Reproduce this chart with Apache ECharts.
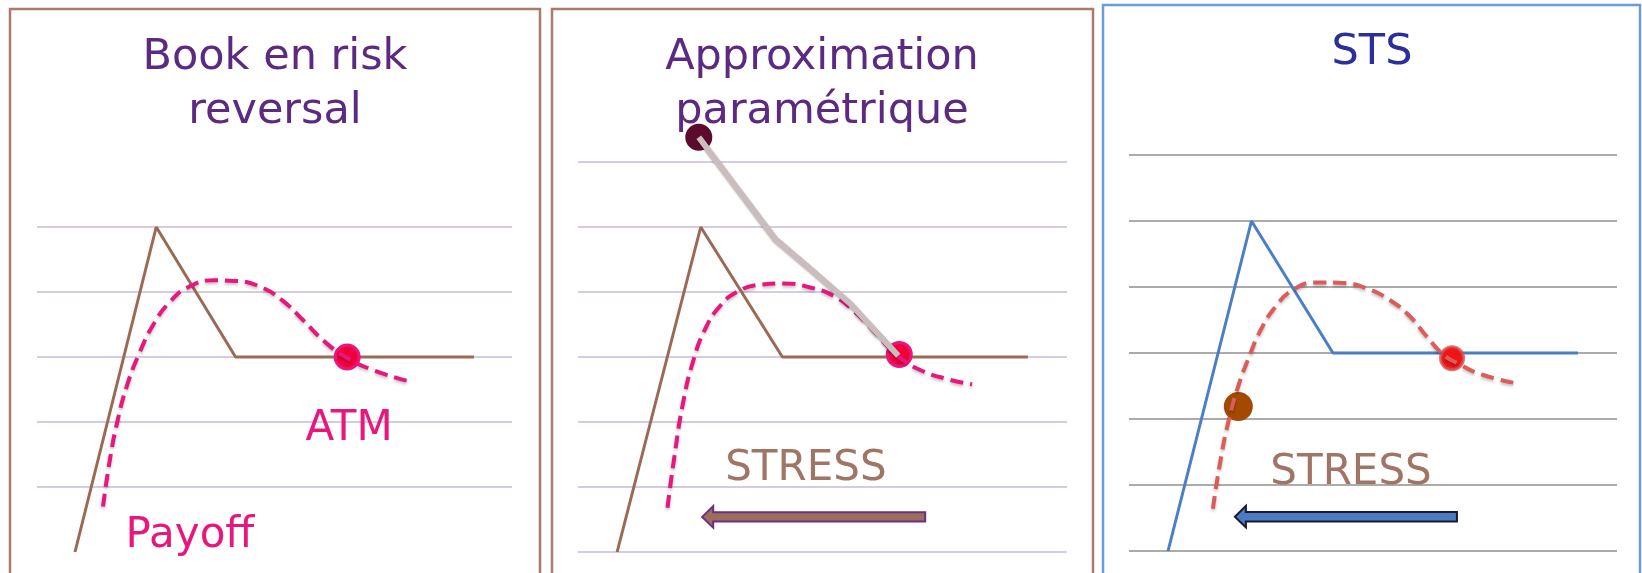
<!DOCTYPE html>
<html>
<head>
<meta charset="UTF-8">
<title>Book en risk reversal - STS</title>
<script src="https://cdn.jsdelivr.net/npm/echarts@6/dist/echarts.min.js"></script>
</head>
<body style="margin:0;background:#fff">
<div id="container" style="width:1642px;height:573px"></div>
<script>
// panel titles
var titles = ['Book en risk\nreversal', 'Approximation\nparamétrique', 'STS'];

// payoff of the risk reversal book (same shape in the three panels)
var payoff = [[8, 0], [25.1, 5], [41.8, 3], [92, 3]];

// dashed curves (value of the book), one per panel
var curve1 = [[13.9, 0.7], [15.3, 1.4], [16.9, 2.0], [18.9, 2.55], [21.5, 3.05], [24.5, 3.5], [28, 3.85],
    [32, 4.08], [37, 4.18], [42, 4.17], [47, 4.08], [51.5, 3.88], [56, 3.57], [60.5, 3.24],
    [65, 3.0], [70, 2.82], [78.1, 2.63]];
var curve2 = [[18.3, 0.68], [19.7, 1.46], [21.5, 2.3], [23.6, 2.95], [26, 3.43], [29, 3.78], [32.5, 4.0],
    [37, 4.11], [42, 4.13], [47.5, 4.07], [52.5, 3.93], [56.5, 3.7], [60.5, 3.4], [63.5, 3.15],
    [66, 2.98], [70, 2.8], [75, 2.67], [80.6, 2.58]];
var curve3 = [[17.2, 0.64], [18.6, 1.31], [20.4, 1.97], [22.4, 2.5], [24.5, 2.92], [27, 3.35], [30, 3.7],
    [33.5, 3.95], [38.5, 4.07], [44, 4.06], [49, 3.97], [53.5, 3.8], [57.5, 3.56], [61, 3.25],
    [64.5, 2.97], [67.5, 2.84], [72, 2.68], [79.5, 2.54]];

// ATM points
var atm = [[65.3, 3.0], [65.7, 3.04], [66.2, 2.92]];

// parametric approximation (panel 2)
var approx = [[24.7, 6.38], [40.4, 4.81], [47.9, 4.33], [55.7, 3.82], [65.5, 3.02]];
// stressed point (panel 3)
var stsPoint = [[22.4, 2.19]];

// stress arrows: [from x, to x, y]
var arrow2 = [[71.0, 25.4, 0.54]];
var arrow3 = [[67.2, 21.7, 0.52]];

// text annotations
var notes1 = [{name: 'ATM', value: [65.7, 1.89]}, {name: 'Payoff', value: [32.2, 0.25]}];
var stress2 = [{name: 'STRESS', value: [46.6, 1.28]}];
var stress3 = [{name: 'STRESS', value: [45.5, 1.18]}];

var font = 'DejaVu Sans, Verdana, sans-serif';
var pink = '#e8177b';
var brown = '#9a6a55';
var blue = '#4a7ec6';

var myChart = echarts.init(document.getElementById('container'), null, {renderer: 'canvas'});

function yAxis(idx, max, color, width, showMin) {
    return {
        type: 'value', gridIndex: idx, min: 0, max: max, interval: 1,
        axisLine: {show: false}, axisTick: {show: false}, axisLabel: {show: false},
        splitLine: {show: true, showMinLine: showMin, showMaxLine: true,
            lineStyle: {color: color, width: width}}
    };
}
function xAxis(idx) {
    return {type: 'value', gridIndex: idx, min: 0, max: 100, show: false};
}
function dashed(idx, data, color) {
    return {
        type: 'line', xAxisIndex: idx, yAxisIndex: idx, data: data, smooth: 0.5,
        symbol: 'none', clip: false, z: 4,
        lineStyle: {color: color, width: 4, type: [13, 7], cap: 'butt',
            shadowColor: 'rgba(0,0,0,0.25)', shadowBlur: 3, shadowOffsetY: 2}
    };
}
function solid(idx, data, color) {
    return {
        type: 'line', xAxisIndex: idx, yAxisIndex: idx, data: data, symbol: 'none',
        clip: false, z: 3, lineStyle: {color: color, width: 3}
    };
}
function dot(idx, data, fill, border, size) {
    return {
        type: 'scatter', xAxisIndex: idx, yAxisIndex: idx, data: data, symbolSize: size,
        clip: false, z: 3,
        itemStyle: {color: fill, borderColor: border, borderWidth: 3, opacity: 1}
    };
}
function text(idx, data, color, size) {
    return {
        type: 'scatter', xAxisIndex: idx, yAxisIndex: idx, data: data, symbolSize: 1,
        itemStyle: {color: 'rgba(0,0,0,0)', opacity: 1}, silent: true, z: 6,
        label: {show: true, position: 'inside', formatter: '{b}', color: color, opacity: 1,
            fontFamily: font, fontSize: size}
    };
}
function arrow(idx, data, fill, stroke) {
    return {
        type: 'custom', xAxisIndex: idx, yAxisIndex: idx, data: data, z: 5,
        renderItem: function (params, api) {
            var tail = api.coord([api.value(0), api.value(2)]);
            var tip = api.coord([api.value(1), api.value(2)]);
            var sh = 4.7, hh = 10.8, hl = 11;
            return {
                type: 'polygon',
                shape: {points: [
                    [tip[0], tip[1]], [tip[0] + hl, tip[1] - hh], [tip[0] + hl, tip[1] - sh],
                    [tail[0], tail[1] - sh], [tail[0], tail[1] + sh],
                    [tip[0] + hl, tip[1] + sh], [tip[0] + hl, tip[1] + hh]
                ]},
                style: {fill: fill, stroke: stroke, lineWidth: 2}
            };
        }
    };
}

var titleColors = ['#5c2a80', '#5c2a80', '#2b2f9a'];
var titleX = [275, 822, 1372];
var titleTop = [31, 31, 26];

var option = {
    backgroundColor: '#fff',
    animation: false,
    title: titles.map(function (t, i) {
        return {
            text: t, left: titleX[i], top: titleTop[i], textAlign: 'center', padding: 0,
            textStyle: {fontFamily: font, fontWeight: 'normal', fontSize: 43, lineHeight: 54, color: titleColors[i]}
        };
    }),
    graphic: [
        {type: 'rect', shape: {x: 10, y: 9, width: 530, height: 580}, style: {fill: 'none', stroke: '#aa7b6c', lineWidth: 2.5}},
        {type: 'rect', shape: {x: 552, y: 9, width: 541, height: 580}, style: {fill: 'none', stroke: '#aa7b6c', lineWidth: 2.5}},
        {type: 'rect', shape: {x: 1103, y: 5, width: 537, height: 580}, style: {fill: 'none', stroke: '#6b9bd9', lineWidth: 2.5}}
    ],
    grid: [
        {left: 37, top: 227, width: 475, height: 325},
        {left: 578, top: 162, width: 489, height: 390},
        {left: 1129, top: 155, width: 488, height: 396}
    ],
    xAxis: [xAxis(0), xAxis(1), xAxis(2)],
    yAxis: [
        yAxis(0, 5, '#d6cbe1', 2, false),
        yAxis(1, 6, '#d6cbe1', 2, true),
        yAxis(2, 6, '#8f8f8f', 1.5, true)
    ],
    series: [
        // panel 1
        solid(0, payoff, brown),
        dot(0, [atm[0]], '#f2003c', pink, 24),
        dashed(0, curve1, pink),
        text(0, notes1, pink, 42),
        // panel 2
        solid(1, payoff, brown),
        dot(1, [atm[1]], '#f2003c', pink, 24),
        dashed(1, curve2, pink),
        {
            type: 'line', xAxisIndex: 1, yAxisIndex: 1, data: approx, symbol: 'none', clip: false, z: 5,
            lineStyle: {color: '#cbbdbd', width: 6, shadowColor: 'rgba(0,0,0,0.3)', shadowBlur: 2, shadowOffsetY: 1}
        },
        dot(1, [approx[0]], '#5c0a2e', '#5c0a2e', 24),
        text(1, stress2, '#a07565', 42),
        arrow(1, arrow2, '#9c6e5a', '#6b2f8a'),
        // panel 3
        solid(2, payoff, blue),
        dot(2, [atm[2]], '#ee1515', 'rgba(215,80,80,0.8)', 23),
        dot(2, stsPoint, '#a34a00', '#a34a00', 26),
        dashed(2, curve3, '#dc5c5a'),
        text(2, stress3, '#a07565', 42),
        arrow(2, arrow3, '#4a7bc4', '#1a1a2a')
    ]
};

myChart.setOption(option);
</script>
</body>
</html>
